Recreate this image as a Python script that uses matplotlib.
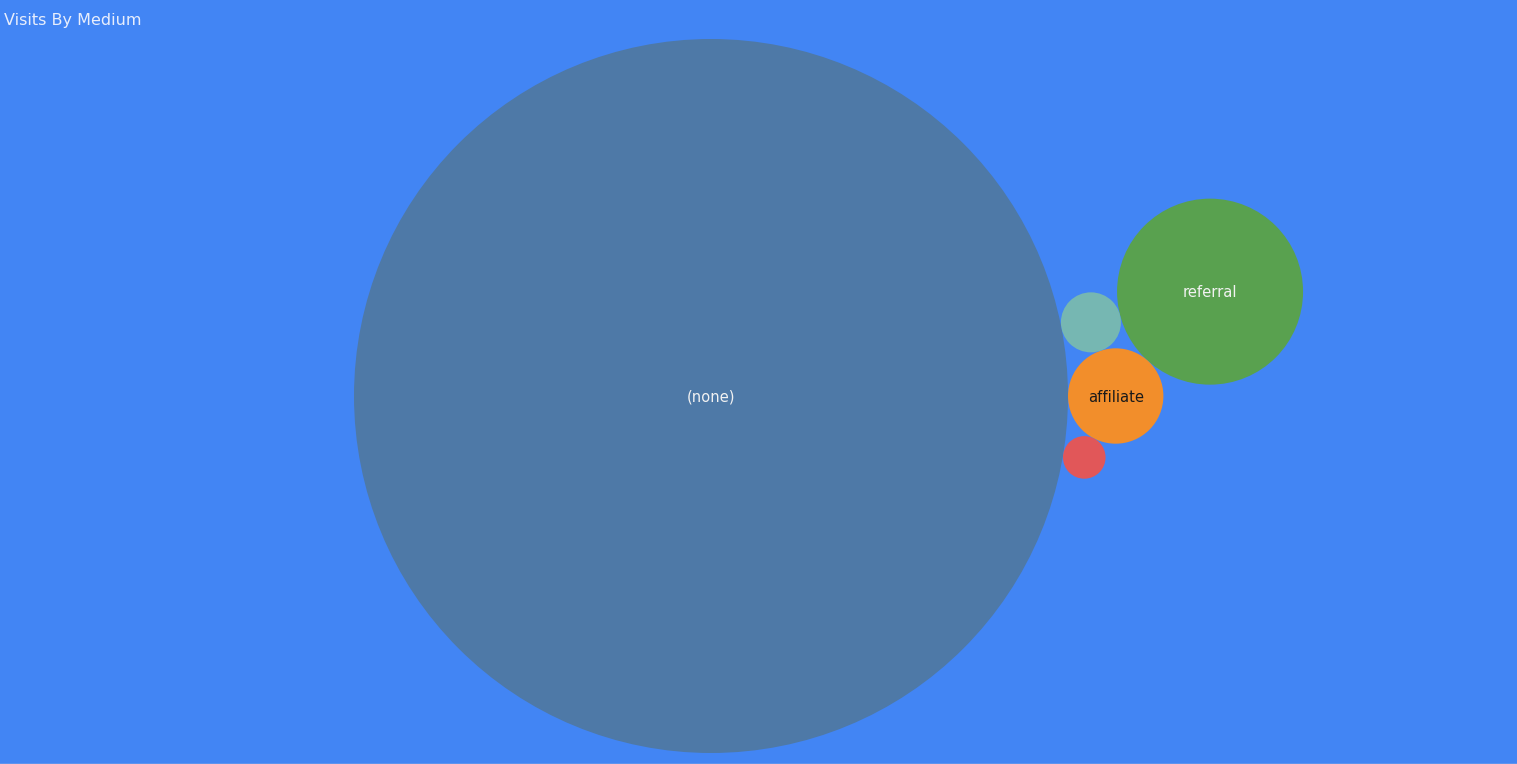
import numpy as np
import matplotlib.pyplot as plt
from matplotlib.patches import Circle

# data
mediums = ['(none)', 'referral', 'affiliate', 'cpm', 'cpc']
visits = [45000, 3054, 803, 318, 160]
colors = ['#4E79A7', '#59A14F', '#F28E2B', '#76B7B2', '#E15759']
label_colors = ['#f2f2f2', '#f2f2f2', '#1a1a1a', None, None]

# packing: which bubbles each one rests against (side: +1 / -1 of the a->b line)
rests_on = {
    'affiliate': ('(none)', None, 0),
    'cpc': ('(none)', 'affiliate', 1),
    'cpm': ('(none)', 'affiliate', -1),
    'referral': ('affiliate', 'cpm', 1),
}
place_order = ['(none)', 'affiliate', 'cpc', 'cpm', 'referral']

W, H = 1517, 764
R_MAX = 357.0                 # radius of the biggest bubble, px
ORIGIN = (711.0, 396.0)       # centre of the biggest bubble, px

vmax = max(visits)
radius = {m: R_MAX * np.sqrt(v / vmax) for m, v in zip(mediums, visits)}

centre = {}
for m in place_order:
    r = radius[m]
    if m not in rests_on:
        centre[m] = np.array(ORIGIN)
        continue
    a, b, side = rests_on[m]
    pa = centre[a]
    if b is None:
        centre[m] = pa + np.array([radius[a] + r, 0.0])
        continue
    pb = centre[b]
    d = np.linalg.norm(pb - pa)
    u = (pb - pa) / d
    p = np.array([-u[1], u[0]])
    da, db = radius[a] + r, radius[b] + r
    x = (da**2 - db**2 + d**2) / (2 * d)
    h = np.sqrt(max(da**2 - x**2, 0))
    centre[m] = pa + x * u + side * h * p

fig = plt.figure(figsize=(W / 100, H / 100), dpi=100)
fig.patch.set_facecolor('#4285F4')
ax = fig.add_axes([0, 0, 1, 1])
ax.set_facecolor('#4285F4')
ax.set_xlim(0, W)
ax.set_ylim(H, 0)
ax.set_aspect('equal')
ax.set_axis_off()

for m, c, lc in zip(mediums, colors, label_colors):
    ax.add_patch(Circle(centre[m], radius[m], facecolor=c, edgecolor='none', zorder=2))
    if lc is not None:
        ax.text(centre[m][0], centre[m][1] + 1, m, color=lc, fontsize=10.6,
                ha='center', va='center', zorder=3)

ax.text(4, 25, 'Visits By Medium', color='#e8eefc', fontsize=11.5,
        ha='left', va='baseline')

ax.axhline(H - 0.5, color='#d4d4d4', linewidth=1.0)

fig.savefig('out.png', dpi=100, facecolor=fig.get_facecolor())
